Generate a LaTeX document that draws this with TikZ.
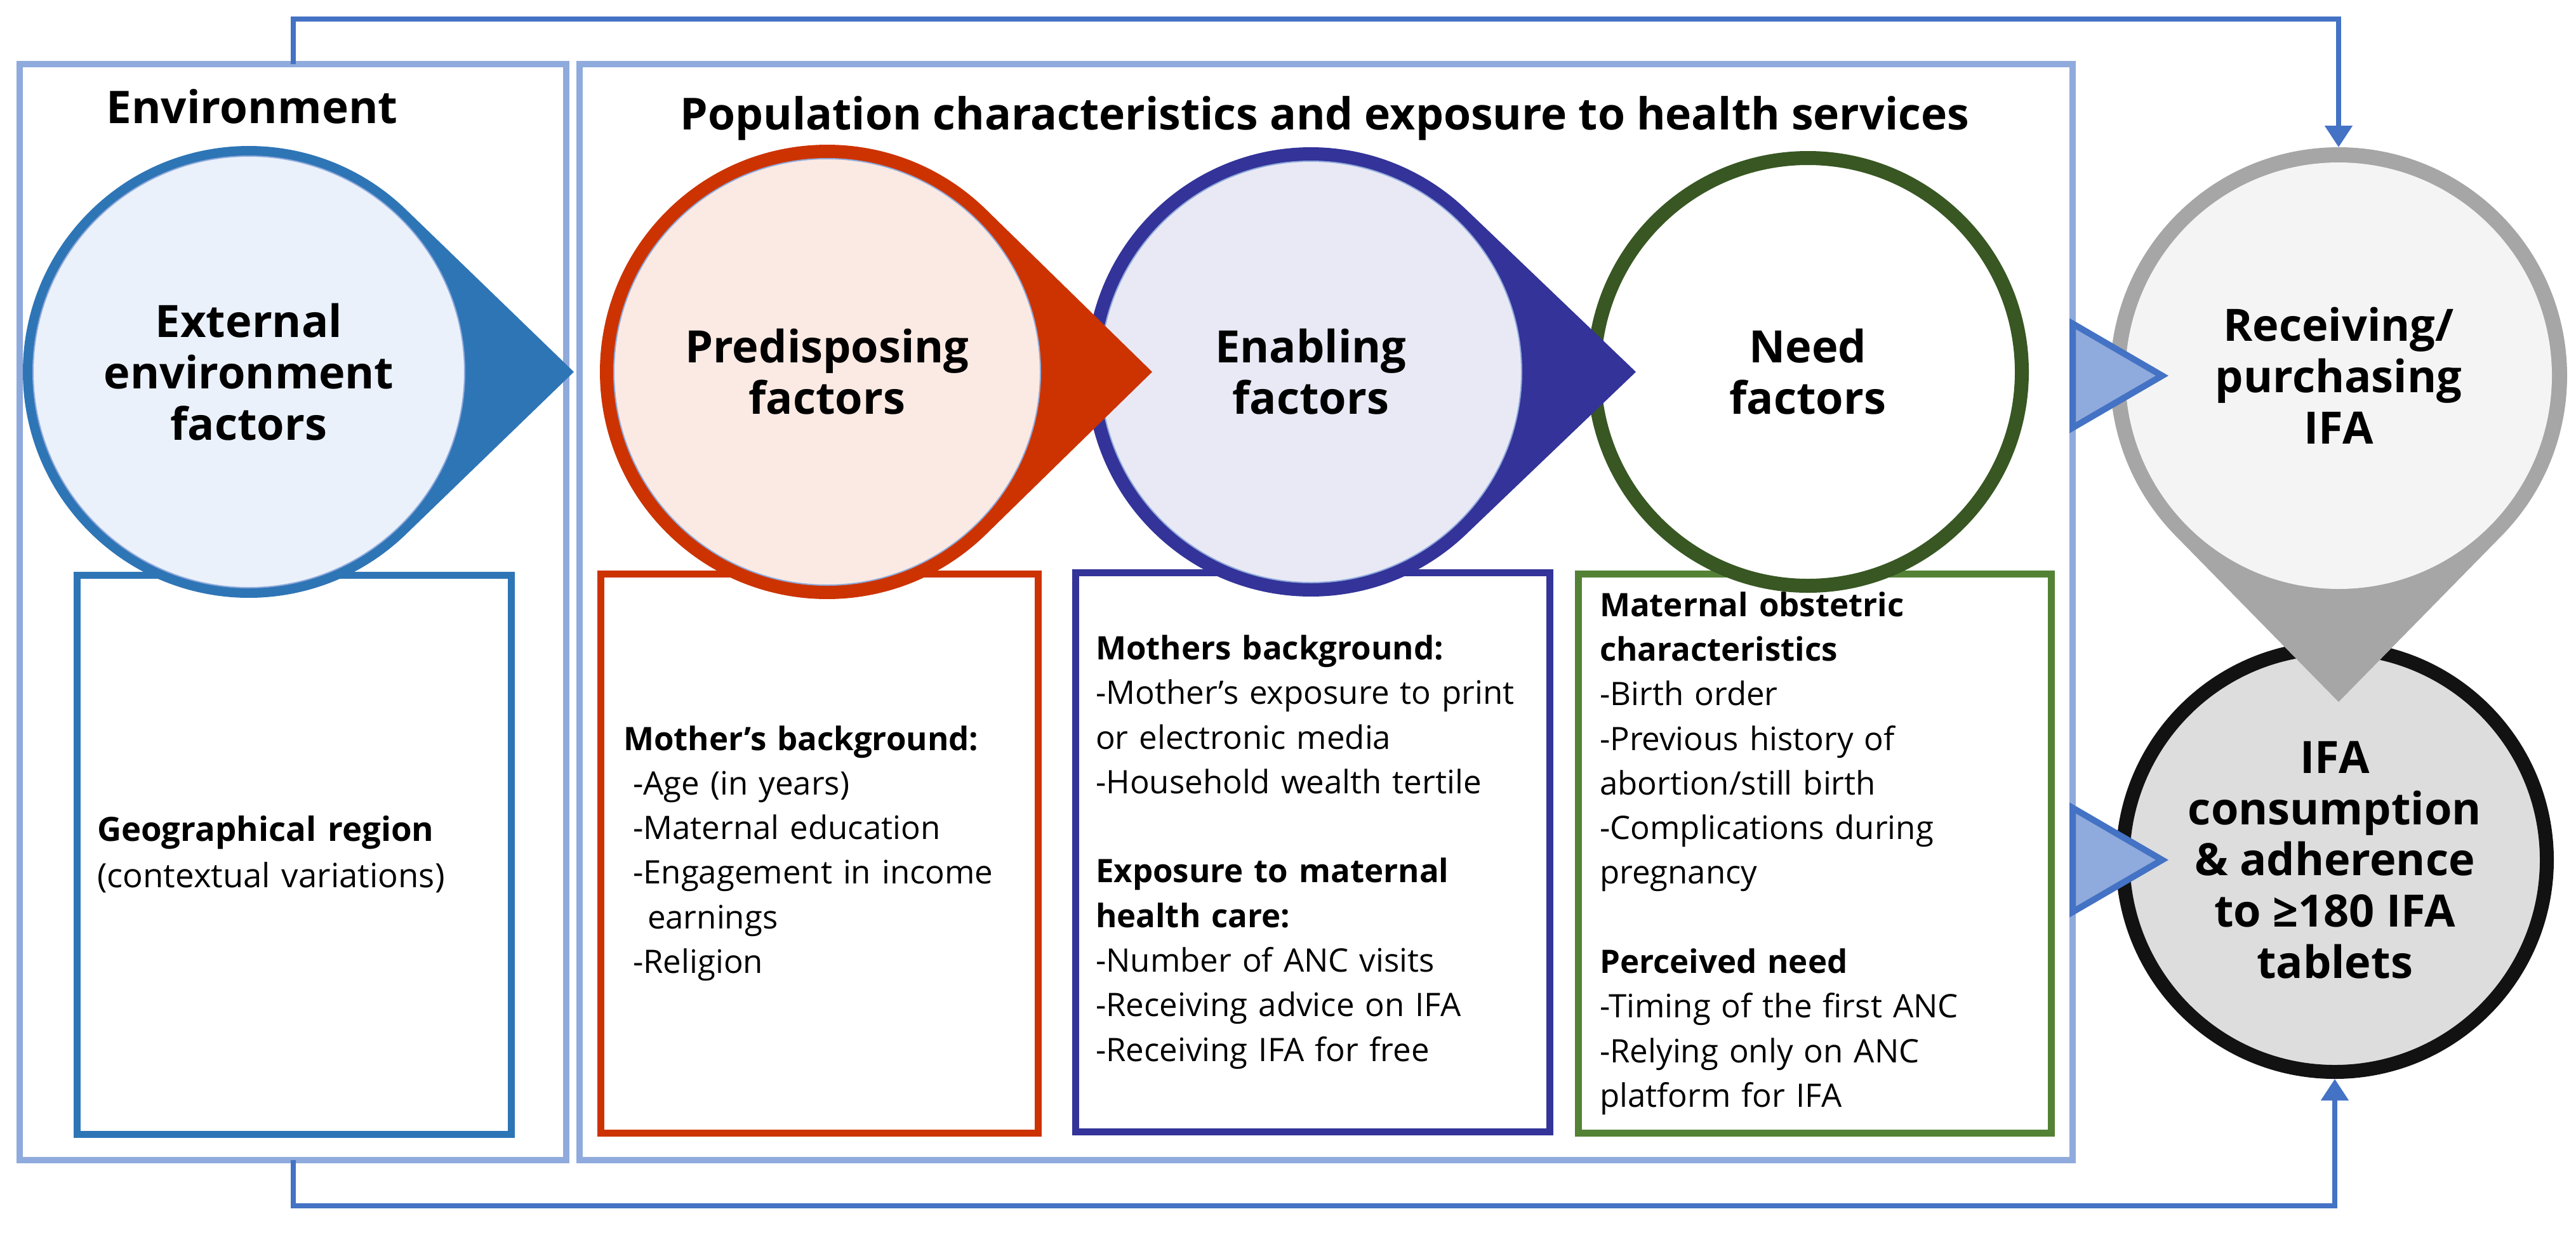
\documentclass[tikz,border=0pt]{standalone}
\usepackage{fontspec}
\setmainfont{Open Sans}
\usetikzlibrary{calc,arrows.meta}

\definecolor{boxblue}{HTML}{8FAADC}
\definecolor{linkblue}{HTML}{4472C4}
\definecolor{envblue}{HTML}{2E75B6}
\definecolor{envfill}{HTML}{EAF1FA}
\definecolor{predred}{HTML}{CC3300}
\definecolor{predfill}{HTML}{FBEAE3}
\definecolor{enabblue}{HTML}{333399}
\definecolor{enabfill}{HTML}{E9E9F5}
\definecolor{needgreen}{HTML}{385723}
\definecolor{needgreenbox}{HTML}{548235}
\definecolor{recvgray}{HTML}{A6A6A6}
\definecolor{recvfill}{HTML}{F4F4F4}
\definecolor{ifafill}{HTML}{DDDDDD}

% pointed circle: centre, radius, direction, tip distance, colour
\newcommand{\dropfill}[5]{%
  \pgfmathsetmacro{\dropang}{acos(#2/#4)}
  \fill[#5] ($(#1)+(#3:#4)$) -- ($(#1)+({#3+\dropang}:#2)$)
    arc[start angle={#3+\dropang}, delta angle={360-2*\dropang}, radius=#2cm] -- cycle;
}

\begin{document}
\begin{tikzpicture}[
    panel/.style={draw=boxblue, line width=0.1cm, inner sep=0pt, outer sep=0pt, anchor=north west},
    factbox/.style={draw=#1, line width=0.11cm, inner xsep=0.34cm, inner ysep=0pt, outer sep=0pt,
        minimum height=8.81cm, anchor=north west, align=left, font=\fontsize{14.5}{20}\selectfont},
    fact/.style={circle, inner sep=0pt, align=center, font=\fontsize{20}{23}\selectfont\bfseries},
    pointer/.style={fill=boxblue, draw=linkblue, line width=0.1cm},
    link/.style={draw=linkblue, line width=0.08cm, -{Triangle[width=0.42cm,length=0.34cm]}}
]

\useasboundingbox (0,0) rectangle (40.58,-19.45);

% Parameters
\def\tipdist{5.12}   % centre to tip of a pointed circle
\def\rowy{-5.86}     % centre line of the factor circles

% Outer panels
\node[panel, minimum width=8.61cm, minimum height=17.27cm] (envpanel) at (0.31,-1.01) {};
\node[panel, minimum width=23.52cm, minimum height=17.27cm] (poppanel) at (9.13,-1.01) {};

% Panel titles
\node[anchor=base, font=\fontsize{20.2}{23}\selectfont\bfseries] (envtitle) at (3.97,-1.94) {Environment};
\node[anchor=base, font=\fontsize{19.8}{23}\selectfont\bfseries] (poptitle) at (20.87,-2.04)
    {Population characteristics and exposure to health services};

% Boxes under the circles
\node[factbox=envblue, text width=6.20cm, inner xsep=0.32cm, font=\fontsize{15}{20.8}\selectfont]
    (envbox) at (1.21,-9.06) {\textbf{Geographical region}\\(contextual variations)};

\node[factbox=predred, text width=6.17cm, inner xsep=0.36cm]
    (predbox) at (9.46,-9.04) {\textbf{Mother’s background:}\\
    \hspace*{0.15cm}-Age (in years)\\
    \hspace*{0.15cm}-Maternal education\\
    \hspace*{0.15cm}-Engagement in income\\
    \hspace*{0.38cm}earnings\\
    \hspace*{0.15cm}-Religion};

\node[factbox=enabblue, text width=6.83cm, inner xsep=0.32cm]
    (enabbox) at (16.94,-9.02) {\textbf{Mothers background:}\\
    -Mother’s exposure to print\\
    or electronic media\\
    -Household wealth tertile\\[20pt]
    \textbf{Exposure to maternal}\\
    \textbf{health care:}\\
    -Number of ANC visits\\
    -Receiving advice on IFA\\
    -Receiving IFA for free};

\node[factbox=needgreenbox, text width=6.77cm]
    (needbox) at (24.86,-9.04) {\textbf{Maternal obstetric}\\
    \textbf{characteristics}\\
    -Birth order\\
    -Previous history of\\
    abortion/still birth\\
    -Complications during\\
    pregnancy\\[20pt]
    \textbf{Perceived need}\\
    -Timing of the first ANC\\
    -Relying only on ANC\\
    platform for IFA};

% Need circle (no pointer)
\node[fact, fill=white, draw=needgreen, line width=0.22cm, minimum size=6.74cm] (need) at (28.48,\rowy) {Need\\factors};

% Enabling factors
\coordinate (enabc) at (20.65,\rowy);
\dropfill{enabc}{3.54}{0}{\tipdist}{enabblue}
\node[fact, fill=enabfill, draw=boxblue, line width=0.02cm, minimum size=6.64cm, outer sep=0.22cm]
    (enab) at (enabc) {Enabling\\factors};

% Predisposing factors
\coordinate (predc) at (13.03,\rowy);
\dropfill{predc}{3.58}{0}{\tipdist}{predred}
\node[fact, fill=predfill, draw=boxblue, line width=0.02cm, minimum size=6.72cm, outer sep=0.22cm]
    (pred) at (predc) {Predisposing\\factors};

% External environment factors
\coordinate (envc) at (3.92,\rowy);
\dropfill{envc}{3.56}{0}{\tipdist}{envblue}
\node[fact, fill=envfill, draw=boxblue, line width=0.02cm, minimum size=6.80cm, outer sep=0.16cm]
    (env) at (envc) {External\\environment\\factors};

% Outcome circle
\node[fact, fill=ifafill, draw=black!93, line width=0.22cm, minimum size=6.68cm] (ifa) at (36.78,-13.55)
    {IFA\\consumption\\\&~adherence\\to ≥180 IFA\\tablets};

% Receiving / purchasing, pointing down onto the outcome
\coordinate (recvc) at (36.84,-5.92);
\dropfill{recvc}{3.60}{-90}{5.14}{recvgray}
\node[fact, fill=recvfill, minimum size=6.72cm, outer sep=0.24cm] (recv) at (recvc) {Receiving/\\purchasing\\IFA};

% Triangles from the population panel
\filldraw[pointer] (poppanel.east |- recv.center) ++(0,0.82) -- ++(1.41,-0.82) -- ++(-1.41,-0.82) -- cycle;
\filldraw[pointer] (poppanel.east |- ifa.center) ++(0,0.82) -- ++(1.41,-0.82) -- ++(-1.41,-0.82) -- cycle;

% Direct links from the environment
\draw[link] (envpanel.north) -- ++(0,0.71) -| (recv.north);
\draw[link] (envpanel.south) -- ++(0,-0.72) -| (ifa.south);

\end{tikzpicture}
\end{document}
